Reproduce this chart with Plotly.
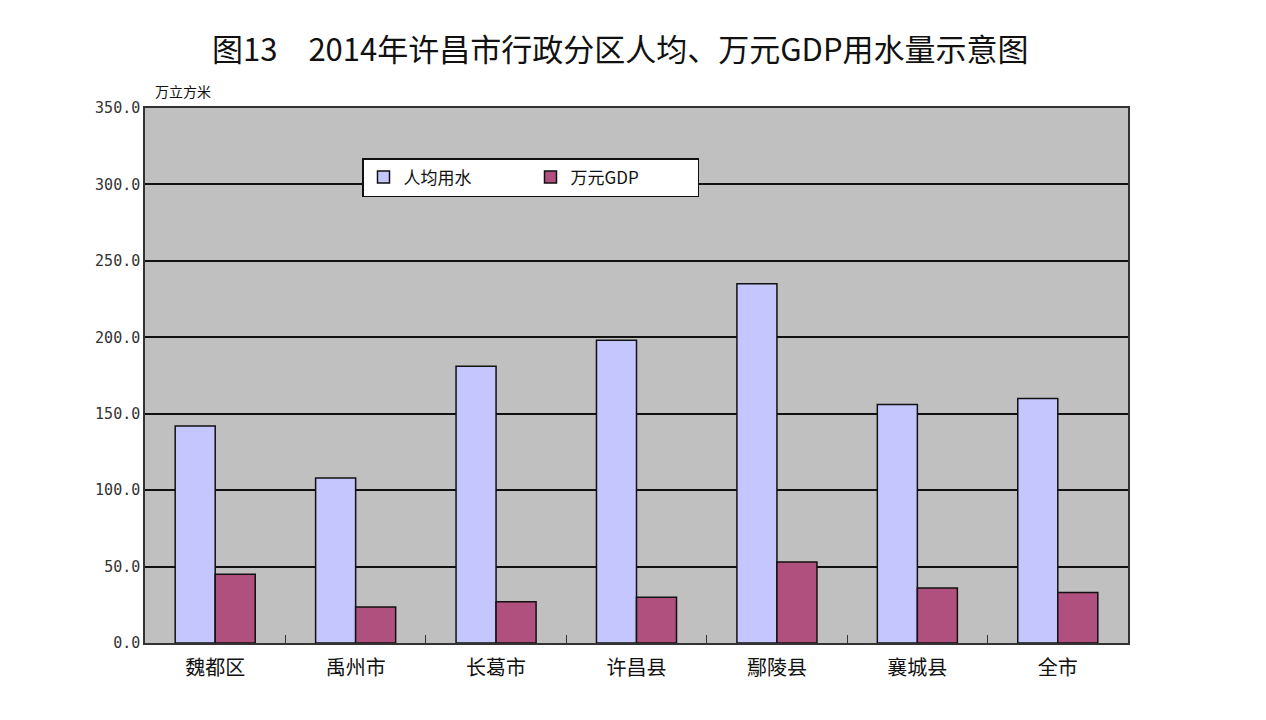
import plotly.graph_objects as go

categories = ["魏都区", "禹州市", "长葛市", "许昌县", "鄢陵县", "襄城县", "全市"]
per_capita = [142, 108, 181, 198, 235, 156, 160]
per_gdp = [45, 23.5, 27, 30, 53, 36, 33]
y_ticks = [0, 50, 100, 150, 200, 250, 300, 350]

cjk = "Noto Sans CJK SC"

# page has an 8px body margin; plot area in page pixels: x 145-1128, y 108-643
L, T, R, B = 137, 100, 146, 85
PW = 1266 - L - R
PH = 720 - T - B

fig = go.Figure()
fig.add_trace(go.Bar(
    x=categories, y=per_capita, name="人均用水",
    marker=dict(color="#c6c6ff", line=dict(color="#111111", width=1.5)),
))
fig.add_trace(go.Bar(
    x=categories, y=per_gdp, name="万元GDP",
    marker=dict(color="#b0507e", line=dict(color="#111111", width=1.5)),
))

fig.update_layout(
    width=1266, height=720,
    margin=dict(l=L, r=R, t=T, b=B),
    paper_bgcolor="white",
    plot_bgcolor="#c0c0c0",
    barmode="group",
    bargap=0.43,
    bargroupgap=0,
    showlegend=True,
    legend=dict(
        orientation="h",
        x=(362 - 8 - L) / PW, y=1 - (158 - 8 - T) / PH,
        xanchor="left", yanchor="top",
        bgcolor="white", bordercolor="#111111", borderwidth=1.5,
        font=dict(family=cjk, size=17, color="#111111"),
        entrywidth=122,
        itemwidth=30,
    ),
    font=dict(family=cjk, color="#111111"),
    annotations=[
        dict(text="图13\u30002014年许昌市行政分区人均、万元GDP用水量示意图",
             x=(620 - 8 - L) / PW, y=1 + (T - (48 - 8)) / PH,
             xref="paper", yref="paper", xanchor="center", yanchor="middle",
             showarrow=False,
             font=dict(family=cjk, size=31, color="#111111")),
        dict(text="万立方米", x=0.0, y=1.0, xref="paper", yref="paper",
             xanchor="left", yanchor="bottom", xshift=8, yshift=5, showarrow=False,
             font=dict(family=cjk, size=14, color="#111111")),
    ],
)

fig.update_xaxes(
    showline=True, linecolor="#333333", linewidth=1.5, mirror=True,
    ticks="inside", tickson="boundaries", ticklen=8, tickcolor="#333333",
    tickfont=dict(family=cjk, size=20, color="#111111"),
    ticklabelstandoff=6,
    showgrid=False,
)
fig.update_yaxes(
    range=[0, 350], tickvals=y_ticks, tickformat=".1f",
    showline=True, linecolor="#333333", linewidth=1.5, mirror=True,
    showgrid=True, gridcolor="#111111", gridwidth=1.5,
    ticks="", zeroline=False,
    tickfont=dict(family="DejaVu Sans Mono", size=15, color="#333333"),
)

fig.write_html("out.html")
